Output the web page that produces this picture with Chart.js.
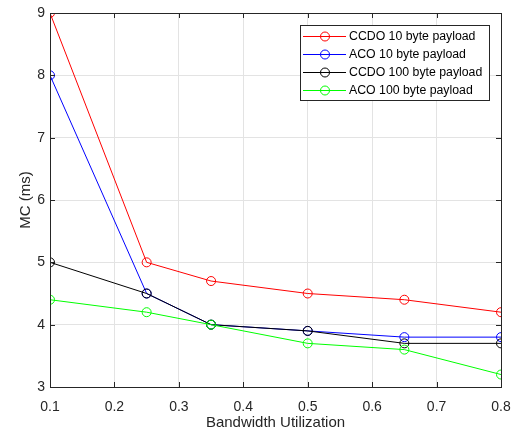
<!DOCTYPE html>
<html>
<head>
<meta charset="utf-8">
<script src="https://cdn.jsdelivr.net/npm/chart.js@4"></script>
<style>
  html, body { margin: 0; padding: 0; background: #fff; }
  #wrap { width: 512px; height: 432px; }
</style>
</head>
<body>
<div id="wrap"><canvas id="mcChart" width="512" height="432"></canvas></div>
<script>
const utilization = [0.1, 0.25, 0.35, 0.5, 0.65, 0.8];
const ccdo10 = [9, 5, 4.7, 4.5, 4.4, 4.2];
const aco10 = [8, 4.5, 4.0, 3.9, 3.8, 3.8];
const ccdo100 = [5, 4.5, 4.0, 3.9, 3.7, 3.7];
const aco100 = [4.4, 4.2, 4.0, 3.7, 3.6, 3.2];
const seriesNames = ["CCDO 10 byte payload", "ACO 10 byte payload", "CCDO 100 byte payload", "ACO 100 byte payload"];
const xTicks = [0.1, 0.2, 0.3, 0.4, 0.5, 0.6, 0.7, 0.8];
const yTicks = [3, 4, 5, 6, 7, 8, 9];

const colors = ["#ff0000", "#0000ff", "#000000", "#00ff00"];
const axisColor = "#262626";
const fontFam = "'Liberation Sans', Arial, sans-serif";

function makeSet(name, values, i) {
    return {
        label: name,
        data: values.map((v, k) => ({ x: utilization[k], y: v })),
        borderColor: colors[i],
        backgroundColor: "rgba(0,0,0,0)",
        pointBackgroundColor: "rgba(0,0,0,0)",
        pointBorderColor: colors[i],
        pointRadius: 4.5,
        pointBorderWidth: 1,
        borderWidth: 1,
        tension: 0,
        order: 4 - i
    };
}

// frame, inward ticks and legend box like the original figure
const framePlugin = {
    id: "frame",
    afterDraw(chart) {
        const { ctx, chartArea: a, scales } = chart;
        ctx.save();
        ctx.strokeStyle = axisColor;
        ctx.lineWidth = 1;
        ctx.strokeRect(a.left + 0.5, a.top + 0.5, a.right - a.left, a.bottom - a.top);
        ctx.beginPath();
        xTicks.forEach(t => {
            const px = Math.round(scales.x.getPixelForValue(t)) + 0.5;
            ctx.moveTo(px, a.bottom); ctx.lineTo(px, a.bottom - 5);
            ctx.moveTo(px, a.top); ctx.lineTo(px, a.top + 5);
        });
        yTicks.forEach(t => {
            const py = Math.round(scales.y.getPixelForValue(t)) + 0.5;
            ctx.moveTo(a.left, py); ctx.lineTo(a.left + 5, py);
            ctx.moveTo(a.right, py); ctx.lineTo(a.right - 5, py);
        });
        ctx.stroke();

        // legend
        const bx = 300, by = 25, bw = 189, bh = 75;
        ctx.fillStyle = "#fff";
        ctx.fillRect(bx, by, bw, bh);
        ctx.strokeStyle = axisColor;
        ctx.strokeRect(bx + 0.5, by + 0.5, bw, bh);
        ctx.font = "12.3px " + fontFam;
        ctx.textBaseline = "middle";
        chart.data.datasets.forEach((ds, i) => {
            const y = by + 11.5 + i * 18;
            ctx.strokeStyle = ds.borderColor;
            ctx.beginPath();
            ctx.moveTo(303, y); ctx.lineTo(346, y);
            ctx.stroke();
            ctx.beginPath();
            ctx.arc(325, y, 4.5, 0, Math.PI * 2);
            ctx.stroke();
            ctx.fillStyle = "#000";
            ctx.fillText(ds.label, 349, y);
        });
        ctx.restore();
    }
};

new Chart(document.getElementById("mcChart").getContext("2d"), {
    type: "line",
    data: {
        datasets: [
            makeSet(seriesNames[0], ccdo10, 0),
            makeSet(seriesNames[1], aco10, 1),
            makeSet(seriesNames[2], ccdo100, 2),
            makeSet(seriesNames[3], aco100, 3)
        ]
    },
    options: {
        responsive: false,
        animation: false,
        layout: { padding: { top: 13, right: 11, left: 17, bottom: 0 } },
        plugins: {
            legend: { display: false },
            tooltip: { enabled: false }
        },
        scales: {
            x: {
                type: "linear",
                min: 0.1,
                max: 0.8,
                afterBuildTicks: s => { s.ticks = xTicks.map(v => ({ value: v })); },
                afterFit: s => { s.height = 45; s.paddingLeft = 0; s.paddingRight = 0; },
                grid: { color: "#e3e3e3", drawTicks: false },
                border: { color: axisColor },
                ticks: {
                    color: axisColor,
                    padding: 12,
                    maxRotation: 0,
                    font: { family: fontFam, size: 14 },
                    callback: v => v.toFixed(1)
                },
                title: {
                    display: true,
                    text: "Bandwidth Utilization",
                    color: axisColor,
                    padding: { top: 0, bottom: 0 },
                    font: { family: fontFam, size: 15 }
                }
            },
            y: {
                min: 3,
                max: 9,
                afterBuildTicks: s => { s.ticks = yTicks.map(v => ({ value: v })); },
                afterFit: s => { s.width = 33; s.paddingTop = 0; s.paddingBottom = 0; },
                grid: { color: "#e3e3e3", drawTicks: false },
                border: { color: axisColor },
                ticks: {
                    color: axisColor,
                    padding: 5,
                    font: { family: fontFam, size: 14 }
                },
                title: {
                    display: true,
                    text: "MC (ms)",
                    color: axisColor,
                    padding: { top: 0, bottom: 0 },
                    font: { family: fontFam, size: 15 }
                }
            }
        }
    },
    plugins: [framePlugin]
});
</script>
</body>
</html>
